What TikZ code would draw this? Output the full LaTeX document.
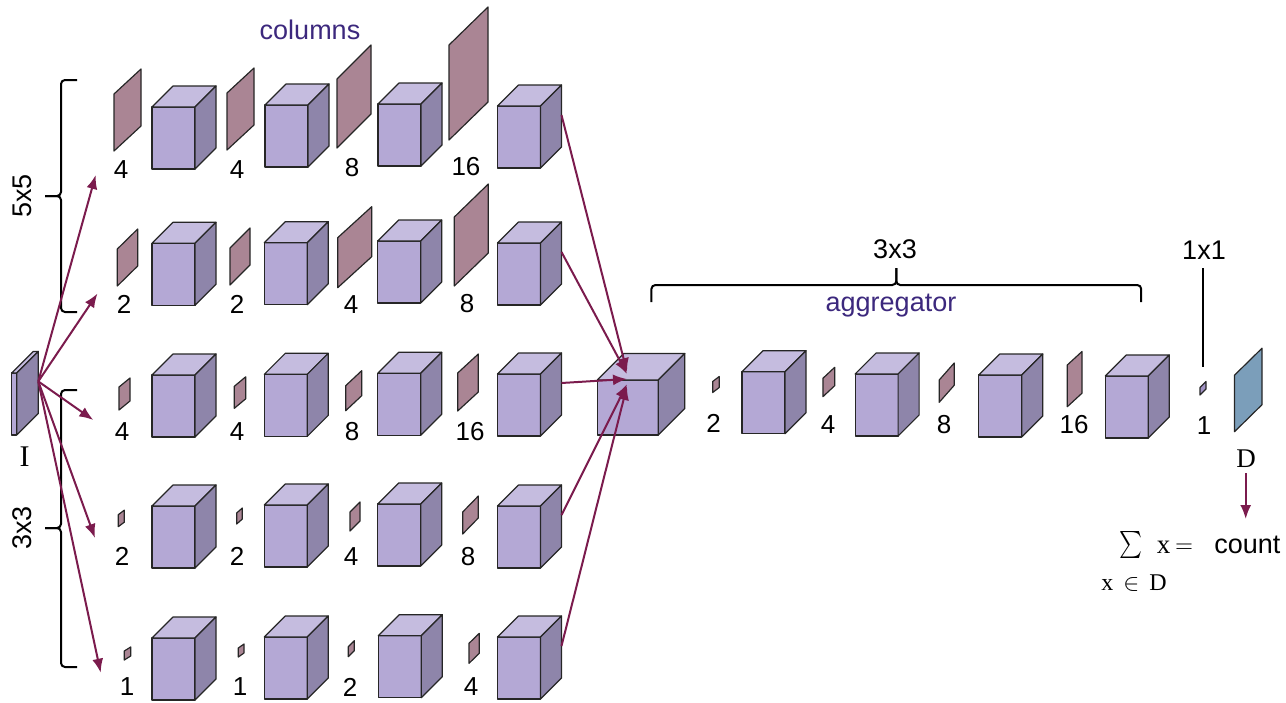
\documentclass[tikz,border=0pt]{standalone}
\usepackage{amsmath}
\usepackage{graphicx}
\usepackage{fontspec}
\setmainfont{Liberation Serif}
\newfontfamily\arialfam{Liberation Sans}
\usetikzlibrary{arrows.meta}

\definecolor{cfront}{RGB}{180,168,213}
\definecolor{ctop}{RGB}{197,188,223}
\definecolor{cside}{RGB}{142,133,170}
\definecolor{slabc}{RGB}{170,133,148}
\definecolor{tinyc}{RGB}{160,145,195}
\definecolor{dblue}{RGB}{123,158,186}
\definecolor{arrowc}{RGB}{123,27,77}
\definecolor{txtpurple}{RGB}{60,40,125}

\tikzset{
  face/.style={draw=black!85, line width=0.6pt, line join=round},
  num/.style={font=\arialfam\fontsize{13}{15}\selectfont, inner sep=0pt},
  title/.style={font=\arialfam\fontsize{13.5}{16}\selectfont, text=txtpurple, inner sep=0pt},
  dimlabel/.style={font=\arialfam\fontsize{13.5}{16}\selectfont, inner sep=0pt},
  serif/.style={font=\fontsize{13.5}{15}\selectfont, inner sep=0pt},
  brace/.style={draw=black, line width=1pt, rounded corners=2pt},
  marker/.style={draw=black, line width=1pt},
  flow/.style={draw=arrowc, line width=1pt, -{Latex[length=7pt,width=5.5pt]}},
}

% box with a front face (w x h) and a 45 degree depth d; #1 names the point
% on the back right edge where outgoing connectors start
\newcommand\drawbox[6]{%
  \begin{scope}[shift={(#2,#3)}]
    \filldraw[face,fill=cfront] (0,0) rectangle (#4,#5);
    \filldraw[face,fill=ctop] (0,0) -- (#6,-#6) -- ({#4+#6},-#6) -- (#4,0) -- cycle;
    \filldraw[face,fill=cside] (#4,0) -- ({#4+#6},-#6) -- ({#4+#6},{#5-#6}) -- (#4,#5) -- cycle;
    \coordinate (#1) at ({#4+#6},{30-#6});
  \end{scope}}
\newcommand\drawcube[3]{\drawbox{#1}{#2}{#3}{43}{62}{21}}

% filter plate: bottom left corner (x,y), width, rise, height
\newcommand\drawslab[6][slabc]{%
  \filldraw[face,fill=#1,shift={(#2,#3)}] (0,0) -- (0,-#6) -- (#4,{-#6-#5}) -- (#4,-#5) -- cycle;}

\begin{document}
\begin{tikzpicture}[x=0.5pt,y=-0.5pt]
\useasboundingbox (0,0) rectangle (1286,702);

% input image
\drawbox{Iout}{11.7}{373}{5}{62}{21.6}
\node[serif, font=\fontsize{15}{17}\selectfont] (Ilab) at (24.5,457) {I};

% column 1 (5x5)
\drawslab{114}{151}{27}{25}{57}
\drawcube{c11}{152}{107}
\drawslab{227}{150}{27}{25}{57}
\drawcube{c12}{265}{105}
\drawslab{337}{148}{34}{34}{69}
\drawcube{c13}{378}{104}
\drawslab{449}{140}{39}{38}{95}
\drawcube{c14}{497.5}{106}
\node[num] (n11) at (121,170) {4};
\node[num] (n12) at (237,170) {4};
\node[num] (n13) at (352,168) {8};
\node[num] (n14) at (466,167) {16};

% column 2 (5x5)
\drawslab{117.3}{286}{20.4}{20}{37}
\drawcube{c21}{152}{243.3}
\drawslab{230}{285}{20}{20}{37}
\drawcube{c22}{264.3}{242.7}
\drawslab{337.7}{287.7}{34}{31}{50}
\drawcube{c23}{377.7}{241}
\drawslab{454.3}{286}{34}{33}{69}
\drawcube{c24}{497.5}{243}
\node[num] (n21) at (124,304) {2};
\node[num] (n22) at (237,304) {2};
\node[num] (n23) at (351,305) {4};
\node[num] (n24) at (467,304) {8};

% column 3 (3x3)
\drawslab{119}{410}{11}{9}{23}
\drawcube{c31}{152}{375}
\drawslab{234.3}{408.3}{11.4}{9.5}{22}
\drawcube{c32}{264.3}{374.3}
\drawslab{345.7}{410.7}{16}{15}{25}
\drawcube{c33}{377.7}{373.3}
\drawslab{457.7}{411}{20.6}{19}{38}
\drawcube{c34}{497.5}{374}
\node[num] (n31) at (122,431.7) {4};
\node[num] (n32) at (237,431.7) {4};
\node[num] (n33) at (352,431.7) {8};
\node[num] (n34) at (470,431.7) {16};

% column 4 (3x3)
\drawslab{118.3}{526.7}{6}{4.5}{12}
\drawcube{c41}{152}{506}
\drawslab{236.7}{524}{5.6}{5}{11}
\drawcube{c42}{264.3}{505}
\drawslab{350}{531}{10}{10}{19}
\drawcube{c43}{377.7}{504}
\drawslab{462.7}{534}{15.6}{16}{22}
\drawcube{c44}{497.5}{506}
\node[num] (n41) at (122,556.7) {2};
\node[num] (n42) at (237,556.7) {2};
\node[num] (n43) at (351,556.7) {4};
\node[num] (n44) at (468,556.7) {8};

% column 5 (3x3)
\drawslab{124.3}{660}{6.4}{4}{9}
\drawcube{c51}{152}{638}
\drawslab{238.3}{657}{5.7}{4}{9}
\drawcube{c52}{264.3}{637}
\drawslab{348.3}{656.7}{6}{6}{10}
\drawcube{c53}{378.3}{635.7}
\drawslab{469}{663.3}{10.3}{10}{20}
\drawcube{c54}{497.5}{637}
\node[num] (n51) at (127,687) {1};
\node[num] (n52) at (240,687) {1};
\node[num] (n53) at (350,687) {2};
\node[num] (n54) at (471,687) {4};

% aggregator
\drawbox{agg}{597.3}{380}{61}{55}{26.5}
\drawslab{712.7}{392.5}{6.5}{5}{11}
\drawcube{a2}{742}{371.7}
\drawslab{822.9}{396.7}{11.8}{11}{18.4}
\drawcube{a3}{855.1}{374}
\drawslab{939.2}{402.3}{15}{17}{22.3}
\drawcube{a4}{978.8}{375}
\drawslab{1067.3}{406.7}{14.7}{13.5}{41.7}
\drawcube{a5}{1105.3}{376}
\drawslab[tinyc]{1200}{395}{6}{6}{7.5}
\drawslab[dblue]{1234.5}{431.7}{27.5}{27}{56.5}
\node[num] (na2) at (713.5,423) {2};
\node[num] (na4) at (828,425) {4};
\node[num] (na8) at (944,425) {8};
\node[num] (na16) at (1074,425) {16};
\node[num] (na1) at (1204,426) {1};
\node[serif] (Dlab) at (1246,459) {D};

% titles and kernel sizes
\node[title] (columns) at (310,30) {columns};
\node[title] (aggname) at (891,306) {aggregator};
\node[dimlabel] (k3top) at (895,249) {3x3};
\node[dimlabel] (k1) at (1204,250) {1x1};
\node[dimlabel, rotate=90] (k5) at (22,196) {5x5};
\node[dimlabel, rotate=90] (k3) at (22,528) {3x3};

% braces
\draw[brace] (77,80) -- (61,80) -- (61,196) -- (45,196);
\draw[brace] (77,312) -- (61,312) -- (61,196) -- (45,196);
\draw[brace] (77,390) -- (61,390) -- (61,528) -- (45,528);
\draw[brace] (77,667) -- (61,667) -- (61,528) -- (45,528);
\draw[brace] (651.4,302) -- (651.4,285) -- (896.3,285) -- (896.3,268);
\draw[brace] (1141.2,302) -- (1141.2,285) -- (896.3,285) -- (896.3,268);
\coordinate (k1a) at (1202.5,268);
\coordinate (k1b) at (1202.5,367);
\draw[marker] (k1a) -- (k1b);

% input to the five columns
\coordinate (t1) at (95.7,175);
\coordinate (t2) at (97.5,293.5);
\coordinate (t3) at (93.3,420);
\coordinate (t4) at (95,538);
\coordinate (t5) at (100.7,672.7);
\foreach \t in {t1,t2,t3,t4,t5} \draw[flow] (Iout) -- (\t);

% columns into the aggregator
\coordinate (m1) at (627,372);
\coordinate (m2) at (627,374);
\coordinate (m3) at (627,379);
\coordinate (m4) at (627,384);
\coordinate (m5) at (627,386);
\draw[flow] (c14) -- (m1);
\draw[flow] (c24) -- (m2);
\draw[flow] (c34) -- (m3);
\draw[flow] (c44) -- (m4);
\draw[flow] (c54) -- (m5);

% density map to count
\node[inner sep=0pt] (sigma) at (1130.5,545) {\resizebox*{11.5pt}{13.5pt}{$\sum$}};
\node[serif, anchor=base] (xvar) at (1163.5,553) {x};
\node[inner sep=0pt] (eqs) at (1184,548) {\resizebox{9pt}{!}{$=$}};
\node[num, font=\arialfam\fontsize{13.5}{16}\selectfont, anchor=base west] (count) at (1214,553) {count};
\node[serif, font=\fontsize{12}{14}\selectfont] (sub) at (1134,583) {x\hspace{5pt}$\in$\hspace{5pt}D};
\coordinate (dA) at (1245.7,473);
\coordinate (dB) at (1245.7,519);
\draw[flow] (dA) -- (dB);
\end{tikzpicture}
\end{document}
